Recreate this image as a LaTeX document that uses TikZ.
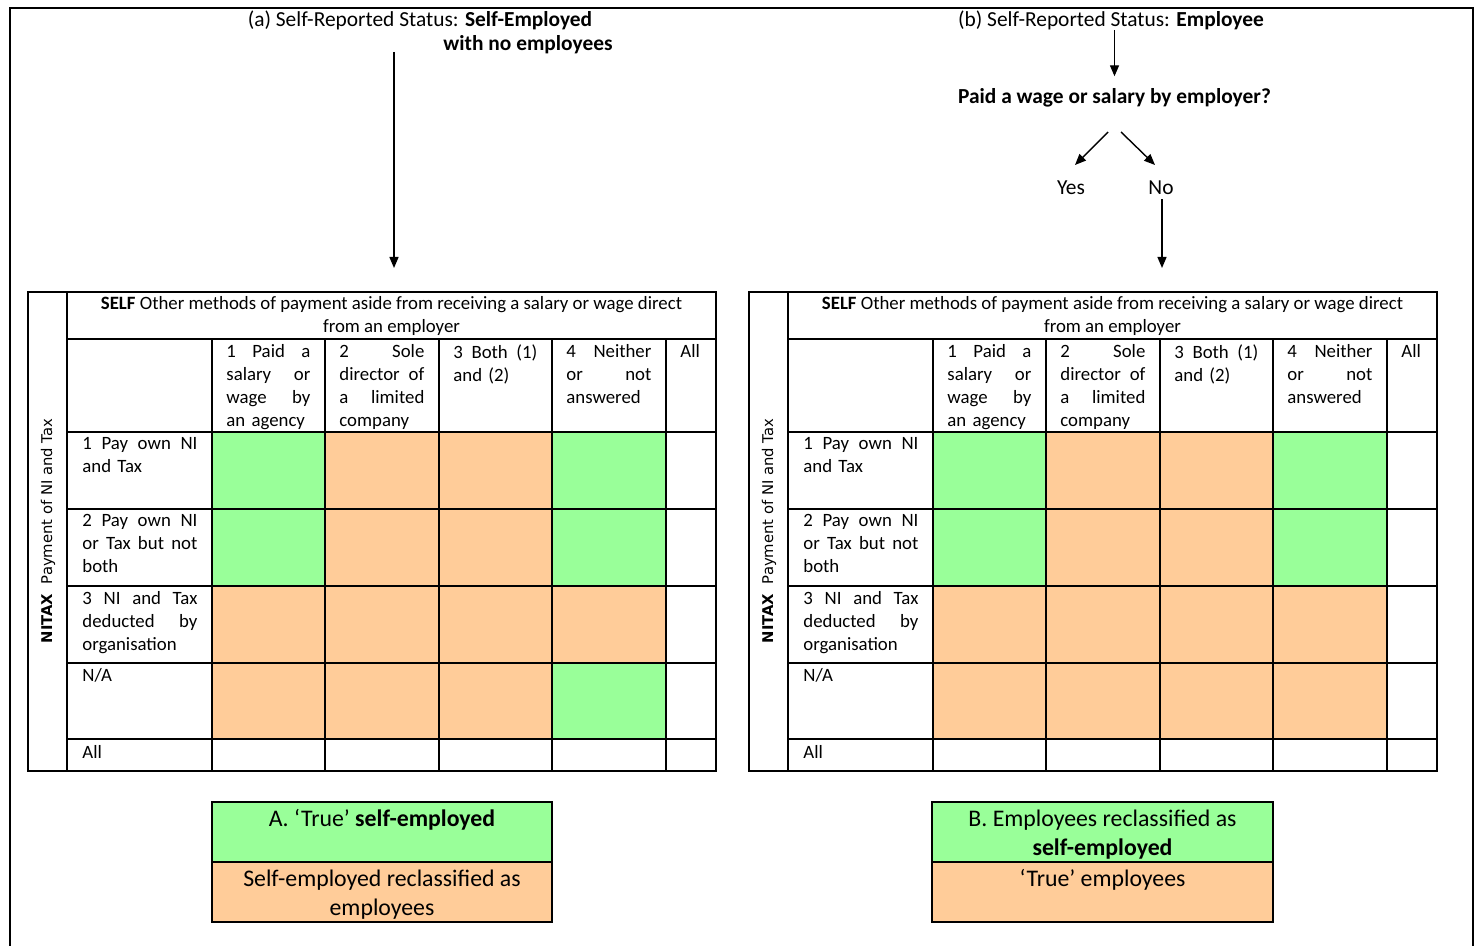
\documentclass[tikz,border=0pt]{standalone}
\usepackage{fontspec}
\setmainfont{Carlito}
\newfontfamily\sidefont{DejaVu Sans}
\usetikzlibrary{arrows.meta,positioning}

\definecolor{mint}{RGB}{153,255,153}
\definecolor{peach}{RGB}{255,204,153}

\tikzset{
  grid line/.style={line width=1pt},
  cell/.style={anchor=north west,inner sep=0pt,align=left,font=\fontsize{9.4}{11.5}\selectfont},
  lbl/.style={inner sep=0pt,align=center,font=\fontsize{9.4}{11.5}\selectfont},
  top/.style={inner sep=0pt,align=center,font=\fontsize{10.7}{13}\selectfont},
  key/.style={inner sep=0pt,align=center,font=\fontsize{11.9}{14.5}\selectfont},
  flow/.style={-{Triangle[length=5.5pt,width=4.5pt]},line width=0.7pt},
}

% table NITAX x SELF: #1 shift, #2 green cells (x/y of corner), #3 name prefix
\newcommand{\nitaxtable}[3]{%
\begin{scope}[shift={(#1,0)}]
  \fill[peach] (212,432) rectangle (666,739);
  \foreach \x/\y in {#2}
    \fill[mint] (\x,\y) rectangle ++(113.5,77);
  % lines
  \draw[grid line] (28,292) rectangle (716,771);
  \draw[grid line] (67,292) -- (67,771);
  \draw[grid line] (67,339) -- (716,339);
  \foreach \y in {432,509,586,663,739}
    \draw[grid line] (67,\y) -- (716,\y);
  \foreach \x in {212,325,439,552,666}
    \draw[grid line] (\x,339) -- (\x,771);
  % texts
  \node[lbl,rotate=90] (#3-nitax) at (48,531) {\sidefont\fontsize{7.4}{9}\selectfont\textbf{NITAX}\ \ Payment of NI and Tax};
  \node[lbl] (#3-self) at (391.5,316) {\textbf{SELF} Other methods of payment aside from receiving a salary or wage direct\\from an employer};
  \node[cell,text width=42pt] (#3-c1) at (226,344) {1\hfill Paid\hfill a\\salary\hfill or\\wage\hfill by\\an agency};
  \node[cell,text width=42.5pt] (#3-c2) at (339,344) {2\hfill Sole\\director\hfill of\\a\hfill limited\\company};
  \node[cell,text width=42pt] (#3-c3) at (453,344) {3\hfill Both\hfill (1)\\and (2)};
  \node[cell,text width=42.5pt] (#3-c4) at (566,344) {4\hfill Neither\\or\hfill not\\answered};
  \node[cell] (#3-c5) at (680,344) {All};
  \node[cell,text width=57.5pt] (#3-r1) at (82,437) {1\hfill Pay\hfill own\hfill NI\\and Tax};
  \node[cell,text width=57.5pt] (#3-r2) at (82,514) {2\hfill Pay\hfill own\hfill NI\\or\hfill Tax\hfill but\hfill not\\both};
  \node[cell,text width=57.5pt] (#3-r3) at (82,591) {3\hfill NI\hfill and\hfill Tax\\deducted\hfill by\\organisation};
  \node[cell] (#3-r4) at (82,668) {N/A};
  \node[cell] (#3-r5) at (82,745) {All};
\end{scope}}

\begin{document}
\begin{tikzpicture}[x=0.5pt,y=-0.5pt]
\useasboundingbox (0,0) rectangle (1482,946);
\draw[line width=1pt] (10,946) -- (10,8) -- (1473,8) -- (1473,946);

% (a) self-employed side
\node[top] (statA) at (420,20) {(a) Self-Reported Status: \textbf{Self-Employed}};
\node[top] (statA2) at (528,45) {\textbf{with no employees}};
\coordinate (a-top) at (394,52);
\coordinate (a-tab) at (394,268);
\draw[flow] (a-top) -- (a-tab);

% (b) employee side
\node[top] (statB) at (1111,20) {(b) Self-Reported Status: \textbf{Employee}};
\node[top] (paid) at (1114.5,98) {\textbf{Paid a wage or salary by employer?}};
\node[top] (yes) at (1071,188) {Yes};
\node[top] (no) at (1161,188) {No};
\coordinate (q-yes) at (1108,132);
\coordinate (q-no) at (1121,132);
\coordinate (yes-in) at (1075,165);
\coordinate (no-in) at (1155,165);
\coordinate (b-tab) at (1162,268);
\draw[flow,shorten >=6pt] (statB.south -| paid.north) -- (paid.north);
\draw[flow] (q-yes) -- (yes-in);
\draw[flow] (q-no) -- (no-in);
\draw[flow,shorten <=2pt] (no.south -| b-tab) -- (b-tab);

\nitaxtable{0}{212/432,212/509,552/432,552/509,552/663}{ta}
\nitaxtable{721}{212/432,212/509,552/432,552/509}{tb}

% keys
\fill[mint] (212,802) rectangle (552,862);
\fill[peach] (212,862) rectangle (552,922);
\draw[grid line] (212,802) rectangle (552,922);
\draw[grid line] (212,862) -- (552,862);
\node[key] (keyA1) at (382,820) {A. ‘True’ \textbf{self-employed}};
\node[key] (keyA2) at (382,894.5) {Self-employed reclassified as\\employees};

\fill[mint] (932,802) rectangle (1273,862);
\fill[peach] (932,862) rectangle (1273,922);
\draw[grid line] (932,802) rectangle (1273,922);
\draw[grid line] (932,862) -- (1273,862);
\node[key] (keyB1) at (1102.5,834.5) {B. Employees reclassified as\\\textbf{self-employed}};
\node[key] (keyB2) at (1102.5,880) {‘True’ employees};
\end{tikzpicture}
\end{document}
